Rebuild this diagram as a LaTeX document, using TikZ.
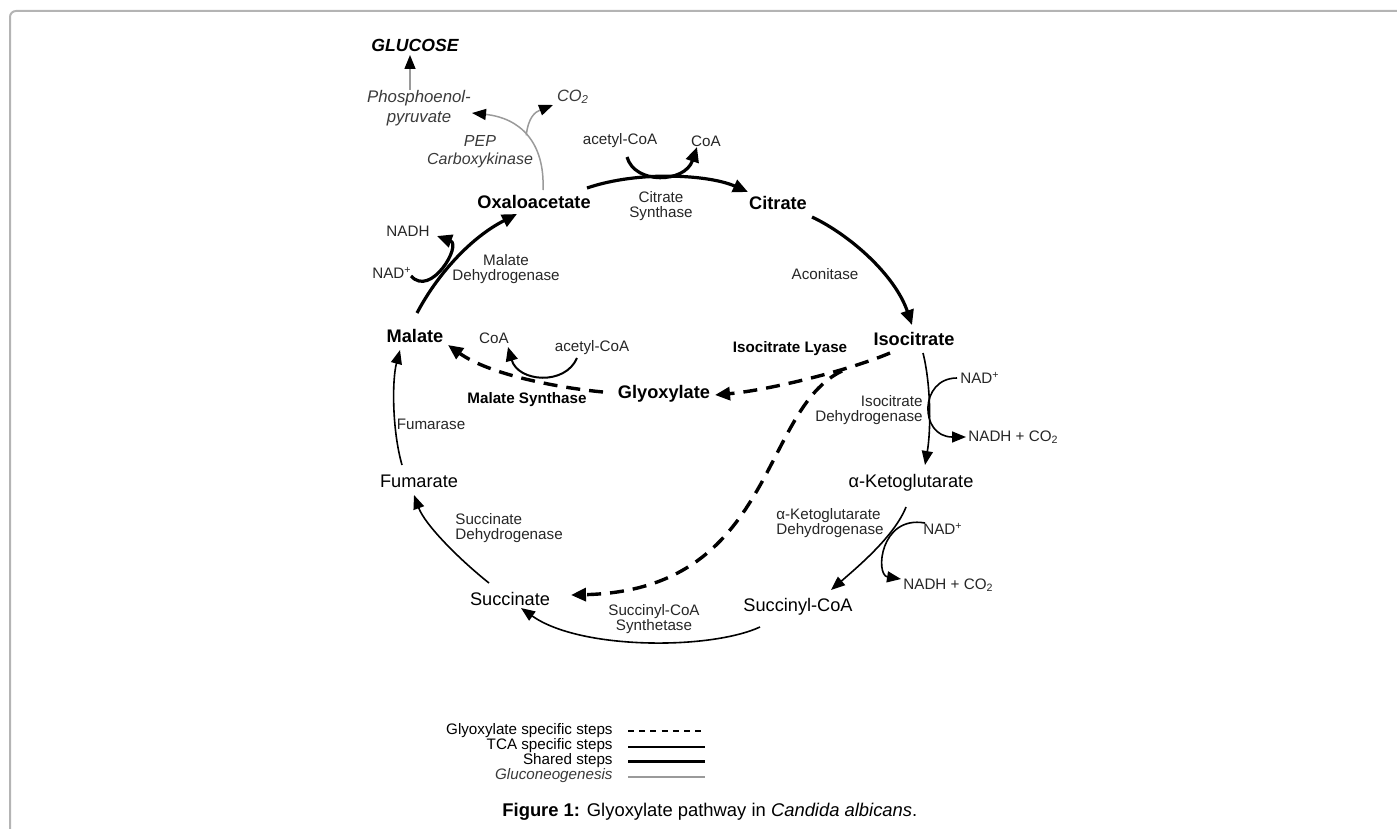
\documentclass[tikz,border=0pt]{standalone}
\usepackage{fontspec}
\setmainfont{Liberation Sans}
\usetikzlibrary{arrows.meta}
\definecolor{frgray}{HTML}{B4B4B4}
\definecolor{glgray}{HTML}{9A9A9A}
\definecolor{lbl}{HTML}{262626}
\definecolor{gltext}{HTML}{3A3A3A}
\begin{document}
\begin{tikzpicture}[x=0.5pt,y=-0.5pt,
 met/.style={font=\fontsize{9.1}{11}\selectfont\bfseries, inner sep=0pt, text=black},
 metr/.style={font=\fontsize{9.1}{11}\selectfont, inner sep=0pt, text=black},
 lab/.style={font=\fontsize{7.6}{7.6}\selectfont, inner sep=0pt, text=lbl, align=center},
 labb/.style={font=\fontsize{7.6}{7.6}\selectfont\bfseries, inner sep=0pt, text=black, align=center},
 gtext/.style={font=\fontsize{8.2}{10}\selectfont\itshape, inner sep=0pt, text=gltext, align=center},
 shared/.style={line width=1.6pt, -{Triangle[length=7.5pt,width=6.5pt]}},
 tca/.style={line width=0.8pt, -{Triangle[length=7pt,width=5.5pt]}},
 glyox/.style={line width=1.7pt, dash pattern=on 7pt off 4.5pt, -{Triangle[length=7.5pt,width=6.5pt]}},
 gluco/.style={line width=0.75pt, draw=glgray, -{Triangle[length=7pt,width=5.5pt,color=black]}},
 legline/.style={line width=0.8pt}
]
\useasboundingbox (0,0) rectangle (1397,829);
% frame
\draw[frgray, line width=1pt, rounded corners=3pt] (10,829) -- (10,11) -- (1397,11);

% gluconeogenesis texts
\node[gtext, font=\fontsize{8.8}{10}\selectfont\bfseries\itshape, text=black] (gluc) at (415,45) {GLUCOSE};
\node[gtext, font=\fontsize{8.4}{10}\selectfont\itshape] (pep) at (419,108) {Phosphoenol-\\pyruvate};
\node[gtext] (co2) at (573,97) {CO\textsubscript{2}};
\node[gtext, font=\fontsize{8}{9}\selectfont\itshape] (pepck) at (480,152) {PEP\\Carboxykinase};

% metabolites and labels
\node[lab] (acoa1) at (620,141) {acetyl-CoA};
\node[lab] (coa1) at (706,141) {CoA};
\node[lab] (cs) at (661,206) {Citrate\\Synthase};
\node[met] (oaa) at (534,202) {Oxaloacetate};
\node[met] (cit) at (778,203) {Citrate};
\node[lab] (nadh1) at (408,231) {NADH};
\node[lab] (nad1) at (392,273) {NAD\textsuperscript{+}};
\node[lab] (mdh) at (506,269) {Malate\\Dehydrogenase};
\node[lab] (aco) at (825,274) {Aconitase};
\node[met] (mal) at (415,336) {Malate};
\node[lab] (coa2) at (494,338) {CoA};
\node[lab] (acoa2) at (592,348) {acetyl-CoA};
\node[labb] (icl) at (790,349) {Isocitrate Lyase};
\node[met] (icit) at (914,339) {Isocitrate};
\node[met] (glx) at (664,394) {Glyoxylate};
\node[labb] (ms) at (527,400) {Malate Synthase};
\node[lab] (nad2) at (980,378) {NAD\textsuperscript{+}};
\node[lab, align=right, anchor=east] (idh) at (923,410) {Isocitrate\\Dehydrogenase};
\node[lab, anchor=west] (nc1) at (968,437) {NADH + CO\textsubscript{2}};
\node[lab] (fumase) at (431,424) {Fumarase};
\node[metr] (akg) at (911,483) {α-Ketoglutarate};
\node[metr] (fum) at (419,481) {Fumarate};
\node[lab, align=left, anchor=west] (sdh) at (455,528) {Succinate\\Dehydrogenase};
\node[lab, align=left] (kgdh) at (830,523) {α-Ketoglutarate\\Dehydrogenase};
\node[lab] (nad3) at (943,529) {NAD\textsuperscript{+}};
\node[lab, anchor=west] (nc2) at (903,585) {NADH + CO\textsubscript{2}};
\node[metr] (succ) at (510,599) {Succinate};
\node[metr] (scoa) at (798,607) {Succinyl-CoA};
\node[lab] (scs) at (654,619) {Succinyl-CoA\\Synthetase};

% shared steps
\draw[shared] ([shift={(2,-23)}]mal.center) .. controls +(20,-38) and +(-47,24) .. ([shift={(-17,12)}]oaa.center);
\draw[shared] ([shift={(19,3)}]nad1.center) .. controls +(20,22) and +(25,9) .. ([shift={(29,5)}]nadh1.center);
\draw[shared] ([shift={(53,-14)}]oaa.center) .. controls +(53,-18) and +(-38,-17) .. ([shift={(-30,-11)}]cit.center);
\draw[shared] ([shift={(7,16)}]acoa1.center) .. controls +(8,28) and +(-12,36) .. ([shift={(-9,6)}]coa1.center);
\draw[shared] ([shift={(34,14)}]cit.center) .. controls +(38,18) and +(-17,-50) .. ([shift={(-2,-14)}]icit.center);

% TCA specific
\draw[tca] ([shift={(9,14)}]icit.center) .. controls +(8,32) and +(6,-35) .. ([shift={(14,-18)}]akg.center);
\draw[tca] ([shift={(-23,0)}]nad2.center) .. controls +(-38,0) and +(-47,0) .. ([shift={(-2,0)}]nc1.west);
\draw[tca] ([shift={(-5,24)}]akg.center) .. controls +(-11,28) and +(29,-25) .. ([shift={(33,-17)}]scoa.center);
\draw[tca] ([shift={(-18,-6)}]nad3.center) .. controls +(-45,-8) and +(-26,-4) .. ([shift={(-2,-6)}]nc2.west);
\draw[tca] ([shift={(-38,20)}]scoa.center) .. controls +(-50,23) and +(59,42) .. ([shift={(11,9)}]succ.center);
\draw[tca] ([shift={(-21,-16)}]succ.center) .. controls +(-29,-23) and +(11,30) .. ([shift={(-5,14)}]fum.center);
\draw[tca] ([shift={(-17,-16)}]fum.center) .. controls +(-10,-35) and +(-8,30) .. ([shift={(-15,14)}]mal.center);

% glyoxylate specific
\draw[glyox] ([shift={(-24,14)}]icit.center) .. controls +(-40,17) and +(55,-5) .. ([shift={(51,1)}]glx.center);
\draw[glyox] ([shift={(-61,-2)}]glx.center) .. controls +(-43,-4) and +(42,30) .. ([shift={(33,9)}]mal.center);
\draw[glyox] ([shift={(-72,32)}]icit.center) .. controls +(-82,39) and +(204,-5) .. ([shift={(61,-4)}]succ.center);
\draw[line width=1pt, -{Triangle[length=7pt,width=6pt]}] ([shift={(-15,10)}]acoa2.center) .. controls +(-12,28) and +(10,35) .. ([shift={(14,9)}]coa2.center);

% gluconeogenesis
\draw[gluco] ([shift={(9,-12)}]oaa.center) .. controls +(2,-48) and +(48,5) .. ([shift={(53,5)}]pep.center) coordinate[pos=0.5] (pb);
\draw[gluco] (pb) .. controls +(2,-18) and +(-18,7) .. ([shift={(-20,8)}]co2.center);
\draw[gluco] ([shift={(-9,-18)}]pep.center) -- ([shift={(-5,10)}]gluc.center);

% legend
\node[lab, anchor=east, text=black] (lg1) at (613,731) {Glyoxylate specific steps};
\node[lab, anchor=east, text=black] (lg2) at (613,746) {TCA specific steps};
\node[lab, anchor=east, text=black] (lg3) at (613,761) {Shared steps};
\node[gtext, font=\fontsize{7.6}{7.6}\selectfont\itshape, anchor=east] (lg4) at (613,776) {Gluconeogenesis};
\draw[line width=0.8pt, dash pattern=on 3pt off 2.6pt] ([shift={(15,0)}]lg1.east) -- ++(77,0);
\draw[line width=0.7pt] ([shift={(15,1)}]lg2.east) -- ++(77,0);
\draw[line width=1.5pt] ([shift={(15,0)}]lg3.east) -- ++(77,0);
\draw[line width=0.8pt, glgray] ([shift={(15,1)}]lg4.east) -- ++(77,0);

% caption
\node[anchor=west, font=\fontsize{9.2}{11}\selectfont, inner sep=0pt] (cap) at (502,812) {\textbf{Figure 1:} Glyoxylate pathway in \textit{Candida albicans}.};
\end{tikzpicture}
\end{document}
